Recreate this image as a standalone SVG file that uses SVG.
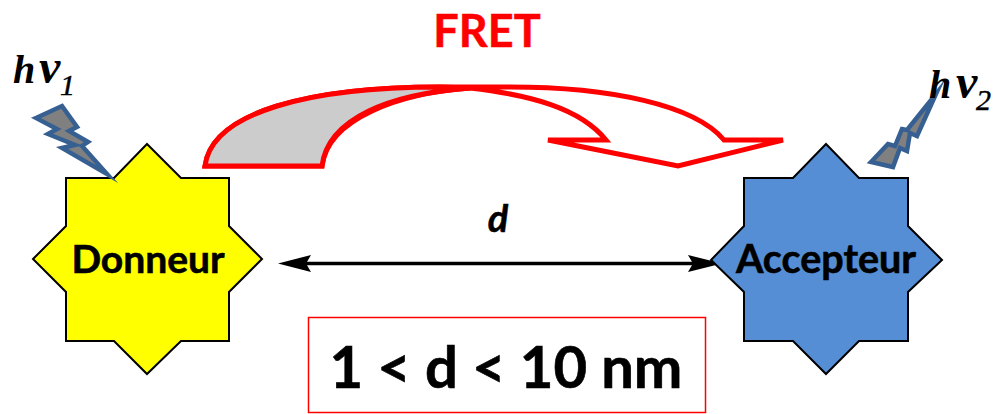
<svg xmlns="http://www.w3.org/2000/svg" width="994" height="414" viewBox="0 0 994 414">
<style>
.star{stroke:#000;stroke-width:2;stroke-linejoin:miter}
.bolt{fill:#808080;stroke:#376092;stroke-width:4.500;stroke-linejoin:miter;stroke-miterlimit:10}
.lbl{font-family:"Lato","Carlito","Liberation Sans",sans-serif;font-weight:700;fill:#000;stroke:#000;stroke-width:.6}
.hv{font-family:"Liberation Serif",serif;font-style:italic;font-weight:700;fill:#000}
.sub{font-family:"Liberation Serif",serif;font-style:italic;fill:#000;stroke:#000;stroke-width:.5}
</style>
<rect width="994" height="414" fill="#fff"/>
<g id="connectors">
<path d="M290 263.500H710" stroke="#000" stroke-width="3.500" fill="none"/>
<path d="M278 263.500L311 255L306 263.500L311 272Z" fill="#000"/>
<path d="M722 263.500L688 255L693 263.500L688 272Z" fill="#000"/>
</g>
<g id="donneur">
<polygon class="star" fill="#ffff00" points="147,144 181,178 229,178 229,226 262,259 229,292 229,341 181,341 147,374 114,341 66,341 66,292 33,259 66,226 66,178 114,178"/>
<text class="lbl" x="148" y="273" font-size="39" text-anchor="middle">Donneur</text>
</g>
<g id="accepteur">
<polygon class="star" fill="#558ed5" points="826,144 859,178 908,178 908,226 942,260 908,292 908,341 859,341 826,374 793,341 744,341 744,292 711,260 744,226 744,178 793,178"/>
<text class="lbl" x="826" y="273" font-size="39.500" text-anchor="middle">Accepteur</text>
</g>
<g id="fret-arrow">
<path d="M205 166C212 112 310 87 440 87L510 87C610 87 695 105 724 140L783 140L678 166L548 140L606 140C580 108 530 95 470 88C400 93 328 118 322 166Z" fill="none" stroke="#ff0000" stroke-width="5" stroke-linejoin="miter"/>
<path d="M205 166C212 112 310 87 440 87L470 88C390 94 328 118 322 166Z" fill="#cccccc" stroke="#ff0000" stroke-width="5"/>
<text x="487" y="47" font-family="Lato,Carlito,'Liberation Sans',sans-serif" font-weight="700" font-size="45" fill="#ff0000" stroke="#ff0000" stroke-width=".5" text-anchor="middle">FRET</text>
</g>
<g id="bolt-1">
<polygon class="bolt" points="36,118 62,106 77,127 69,131 88,142 82,146 107,174 62,148 75,145 48,134 57,129"/>
<text class="hv" x="13" y="83" font-size="40">h</text>
<text class="hv" x="39" y="83" font-size="48">ν</text>
<text class="sub" x="60" y="95" font-size="30">1</text>
</g>
<g id="bolt-2">
<polygon class="bolt" points="871,162 888,144 895,146 902,129 907,130 936,94 917,136 910,133 907,151 900,148 893,167"/>
<text class="hv" x="929" y="98" font-size="40">h</text>
<text class="hv" x="956" y="98" font-size="48">ν</text>
<text class="sub" x="976" y="110" font-size="30">2</text>
</g>
<g id="distance">
<text x="498" y="232" font-family="Lato,Carlito,'Liberation Sans',sans-serif" font-weight="700" font-style="italic" font-size="38" text-anchor="middle" fill="#000" stroke="#000" stroke-width=".5">d</text>
</g>
<g id="range">
<rect x="308.500" y="317.500" width="397" height="95" fill="#fff" stroke="#ff0000" stroke-width="1.500"/>
<text class="lbl" x="506" y="388" font-size="58" text-anchor="middle">1 &lt; d &lt; 10 nm</text>
</g>
</svg>
